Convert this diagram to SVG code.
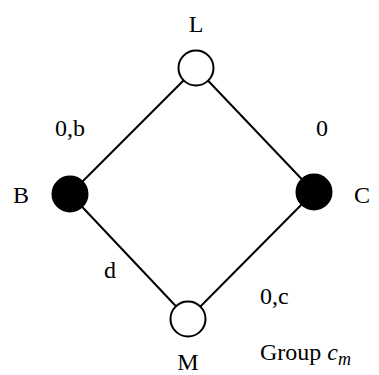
<svg xmlns="http://www.w3.org/2000/svg" width="379" height="375" viewBox="0 0 379 375">
<defs>
<style>
.e{stroke:#000;stroke-width:2;fill:none}
.o{fill:#fff;stroke:#000;stroke-width:2}
.f{fill:#000;stroke:#000;stroke-width:2}
</style>
</defs>
<rect width="379" height="375" fill="#fff"/>
<g id="connectors">
<line class="e" x1="196" y1="68" x2="70" y2="194"/>
<line class="e" x1="196" y1="68" x2="314" y2="192"/>
<line class="e" x1="70" y1="194" x2="188" y2="319"/>
<line class="e" x1="314" y1="192" x2="188" y2="319"/>
</g>
<g id="L"><circle class="o" cx="196" cy="68" r="17.5"/><text style="font-family:'Liberation Serif',serif;font-size:24px" x="196" y="32" text-anchor="middle">L</text></g>
<g id="B"><circle class="f" cx="70" cy="194" r="17.5"/><text style="font-family:'Liberation Serif',serif;font-size:24px" x="21" y="203" text-anchor="middle">B</text></g>
<g id="C"><circle class="f" cx="314" cy="192" r="17.5"/><text style="font-family:'Liberation Serif',serif;font-size:24px" x="362" y="203" text-anchor="middle">C</text></g>
<g id="M"><circle class="o" cx="188" cy="319" r="17.5"/><text style="font-family:'Liberation Serif',serif;font-size:24px" x="188" y="370" text-anchor="middle">M</text></g>
<g id="labels">
<text style="font-family:'Liberation Serif',serif;font-size:24px" x="55" y="136">0,b</text>
<text style="font-family:'Liberation Serif',serif;font-size:24px" x="316" y="136">0</text>
<text style="font-family:'Liberation Serif',serif;font-size:24px" x="104" y="278">d</text>
<text style="font-family:'Liberation Serif',serif;font-size:24px" x="260" y="304">0,c</text>
<text style="font-family:'Liberation Serif',serif;font-size:24px" x="260" y="360">Group <tspan font-style="italic">c</tspan><tspan font-style="italic" font-size="18" dy="5">m</tspan></text>
</g>
</svg>
